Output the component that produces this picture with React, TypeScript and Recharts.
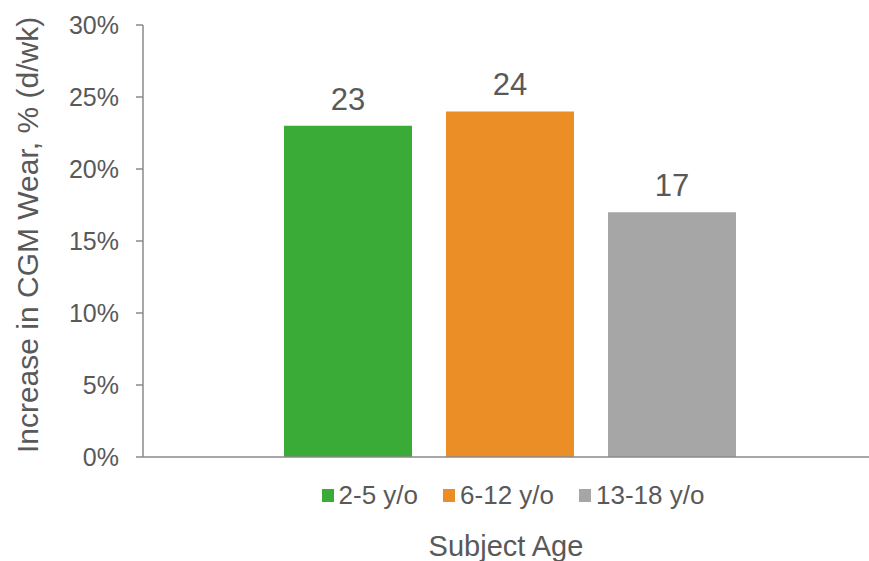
import * as React from 'react';
import { BarChart, Bar, XAxis, YAxis, Legend, LabelList, Label } from 'recharts';

// CGM wear increase by age group, percent of days per week
const ageGroups = ['2-5 y/o', '6-12 y/o', '13-18 y/o'];
const wearIncrease = [23, 24, 17];
const groupColors = ['#3aab36', '#ec8e26', '#a6a6a6'];
const yTicks = [0, 5, 10, 15, 20, 25, 30];

const seriesKeys = ['g0', 'g1', 'g2'];
const row: Record<string, any> = { name: 'Subject Age' };
seriesKeys.forEach((k, i) => {
  row[k] = wearIncrease[i];
});
const data = [row];

const TEXT = '#595959';
const AXIS = '#8a8a8a';
const FONT = '"Liberation Sans", Arial, sans-serif';

const LegendRow = () => (
  <div
    style={{
      display: 'flex',
      justifyContent: 'center',
      alignItems: 'center',
      gap: 25,
      fontFamily: FONT,
      fontSize: 26,
      color: TEXT,
      lineHeight: '28px',
    }}
  >
    {ageGroups.map((g, i) => (
      <div key={g} style={{ display: 'flex', alignItems: 'center' }}>
        <span style={{ width: 12, height: 13, background: groupColors[i], marginRight: 5, display: 'inline-block' }} />
        <span>{g}</span>
      </div>
    ))}
  </div>
);

const YTitle = (props: any) => {
  const { viewBox } = props;
  const cx = 27;
  const cy = viewBox.y + viewBox.height / 2 - 6;
  return (
    <text
      x={cx}
      y={cy}
      transform={`rotate(-90, ${cx}, ${cy})`}
      textAnchor="middle"
      dominantBaseline="central"
      fill={TEXT}
      fontSize={30}
      fontFamily={FONT}
    >
      Increase in CGM Wear, % (d/wk)
    </text>
  );
};

export default function App() {
  return (
    <div style={{ position: 'absolute', left: 0, top: 0, width: 869, height: 561, background: '#fff' }}>
      <BarChart
        width={869}
        height={561}
        data={data}
        margin={{ top: 25, right: 0, left: 0, bottom: 0 }}
        barSize={128}
        barGap={34}
        style={{ fontFamily: FONT }}
      >
        <XAxis
          dataKey="name"
          tick={false}
          tickLine={false}
          axisLine={{ stroke: AXIS, strokeWidth: 1.5 }}
          height={104}
          padding={{ left: 7, right: 0 }}
        >
          <Label value="Subject Age" position="insideBottom" offset={5} fill={TEXT} fontSize={29} />
        </XAxis>
        <YAxis
          width={143}
          domain={[0, 30]}
          ticks={yTicks}
          tickFormatter={(v: number) => `${v}%`}
          tickSize={7}
          tickMargin={17}
          tick={{ fill: TEXT, fontSize: 25 }}
          axisLine={{ stroke: AXIS, strokeWidth: 1.5 }}
          tickLine={{ stroke: AXIS, strokeWidth: 1.5 }}
        >
          <Label content={<YTitle />} />
        </YAxis>
        <Legend
          layout="horizontal"
          verticalAlign="middle"
          align="center"
          content={<LegendRow />}
          wrapperStyle={{ top: 481, left: 150, width: 726, height: 28 }}
        />
        {seriesKeys.map((k, i) => (
          <Bar key={k} dataKey={k} name={ageGroups[i]} fill={groupColors[i]} isAnimationActive={false}>
            <LabelList dataKey={k} position="top" offset={16} fill={TEXT} fontSize={31} />
          </Bar>
        ))}
      </BarChart>
    </div>
  );
}
